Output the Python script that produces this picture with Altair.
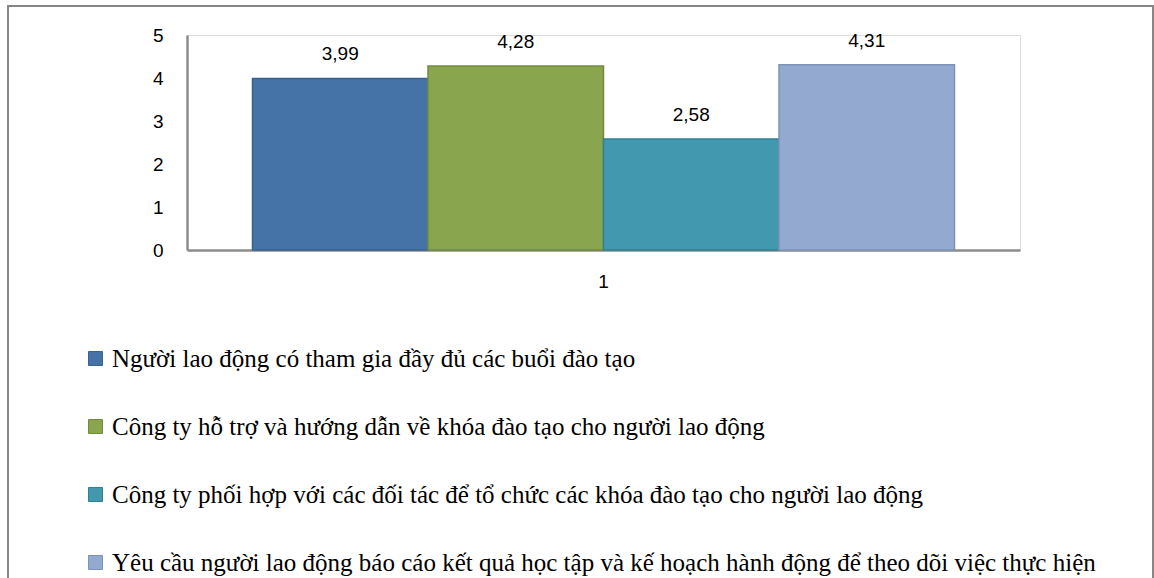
import altair as alt
import pandas as pd

series = [
    "Người lao động có tham gia đầy đủ các buổi đào tạo",
    "Công ty hỗ trợ và hướng dẫn về khóa đào tạo cho người lao động",
    "Công ty phối hợp với các đối tác để tổ chức các khóa đào tạo cho người lao động",
    "Yêu cầu người lao động báo cáo kết quả học tập và kế hoạch hành động để theo dõi việc thực hiện",
]
values = [3.99, 4.28, 2.58, 4.31]
category = ["1", "1", "1", "1"]
colors = ["#4572A7", "#89A54E", "#4198AF", "#93A9CF"]
strokes = ["#3A6290", "#728B40", "#347F93", "#7D92B8"]

df = pd.DataFrame({
    "cat": category,
    "series": series,
    "value": values,
    "label": [f"{v:.2f}".replace(".", ",") for v in values],
})

NUM_FONT = "Liberation Sans"
SERIF = "Liberation Serif"
W, H = 833, 215

base = alt.Chart(df)

frame = alt.Chart(pd.DataFrame({"a": [0]})).mark_rect(
    fill=None, stroke="#868686", strokeWidth=2
).encode(
    x=alt.value(-179), x2=alt.value(966), y=alt.value(-29), y2=alt.value(620)
)

bars = base.mark_bar(strokeWidth=1.5).encode(
    x=alt.X("cat:N", title=None,
            scale=alt.Scale(paddingInner=0, paddingOuter=0.0933),
            axis=alt.Axis(labelAngle=0, ticks=False, domainColor="#8C8C8C", domainWidth=2.5,
                          labelFont=NUM_FONT, labelFontSize=19, labelColor="#000000",
                          labelPadding=22)),
    xOffset=alt.XOffset("series:N", sort=series,
                        scale=alt.Scale(paddingInner=0, paddingOuter=0)),
    y=alt.Y("value:Q", title=None,
            scale=alt.Scale(domain=[0, 5], nice=False),
            axis=alt.Axis(values=[0, 1, 2, 3, 4, 5], grid=False, ticks=False,
                          domainColor="#8C8C8C", domainWidth=2.5,
                          labelFont=NUM_FONT, labelFontSize=19, labelColor="#000000",
                          labelPadding=24)),
    color=alt.Color("series:N", sort=series,
                    scale=alt.Scale(domain=series, range=colors),
                    legend=alt.Legend(title=None, orient="none", legendX=-104, legendY=311,
                                      direction="vertical", symbolType="square",
                                      symbolSize=196, symbolStrokeWidth=1,
                                      symbolStrokeColor="#6A7B90",
                                      labelFont=SERIF, labelFontSize=25,
                                      labelColor="#000000", labelLimit=0,
                                      labelOffset=4, rowPadding=42)),
    stroke=alt.Stroke("series:N", sort=series,
                      scale=alt.Scale(domain=series, range=strokes), legend=None),
)

labels = base.mark_text(font=NUM_FONT, fontSize=19, baseline="middle", dy=-24,
                        color="#000000").encode(
    x=alt.X("cat:N"),
    xOffset=alt.XOffset("series:N", sort=series),
    y=alt.Y("value:Q"),
    text="label:N",
)

chart = alt.layer(frame, bars, labels).properties(
    width=W, height=H,
    autosize=alt.AutoSizeParams(type="none"),
    padding={"left": 187, "top": 35, "right": 1154 - 187 - W, "bottom": 578 - 35 - H},
).configure_view(
    fill="#E6E6E6", stroke=None
).configure(background="#FFFFFF")

chart.save("out.html", embed_options={"renderer": "svg", "actions": False})
